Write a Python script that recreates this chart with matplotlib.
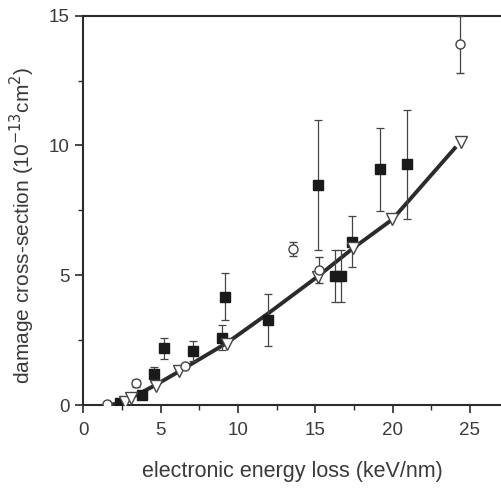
import matplotlib
matplotlib.use("Agg")
import matplotlib.pyplot as plt

plt.rcParams['font.family'] = ['Liberation Sans', 'DejaVu Sans']

# filled squares (experiment A)
sq_x = [2.37, 3.77, 4.59, 5.19, 7.07, 8.99, 9.16, 11.92, 15.19, 16.29, 16.66, 17.37, 19.18, 20.90]
sq_y = [0.09, 0.39, 1.18, 2.18, 2.08, 2.59, 4.18, 3.27, 8.47, 4.97, 4.97, 6.29, 9.08, 9.27]
sq_err = [0.0, 0.0, 0.28, 0.40, 0.40, 0.48, 0.90, 1.00, 2.50, 1.00, 1.00, 0.98, 1.60, 2.10]

# open circles (experiment B)
ci_x = [1.51, 3.40, 6.57, 13.53, 15.26, 24.35]
ci_y = [0.03, 0.83, 1.51, 6.00, 5.22, 13.89]
ci_err = [0.0, 0.13, 0.0, 0.27, 0.50, 1.10]

# open down-triangles (model)
tr_x = [2.69, 3.08, 4.68, 6.19, 9.31, 15.15, 17.46, 19.98, 24.42]
tr_y = [0.13, 0.28, 0.74, 1.32, 2.37, 4.94, 6.03, 7.16, 10.14]

# model curve
line_x = [1.6, 2.5, 3.0, 4.7, 6.2, 9.3, 12.0, 15.15, 17.46, 19.98, 24.1]
line_y = [0.0, 0.08, 0.25, 0.78, 1.30, 2.40, 3.55, 4.95, 6.05, 7.15, 9.95]

x_ticks = [0, 5, 10, 15, 20, 25]
y_ticks = [0, 5, 10, 15]

dark = '#2b2b2b'
txt = '#3a3a3a'

fig = plt.figure(figsize=(5.02, 4.88), dpi=100)
ax = fig.add_axes([0.166, 0.170, 0.834, 0.798])

ax.plot(line_x, line_y, color=dark, lw=2.8, zorder=2, solid_capstyle='butt')

ax.errorbar(sq_x, sq_y, yerr=sq_err, fmt='s', ms=6.6, mfc='#1a1a1a', mec='#1a1a1a',
            ecolor='#444444', elinewidth=0.9, capsize=2.9, capthick=0.9, zorder=3)
ax.errorbar(ci_x, ci_y, yerr=ci_err, fmt='o', ms=6.5, mfc='white', mec='#444444', mew=1.0,
            ecolor='#444444', elinewidth=0.9, capsize=2.9, capthick=0.9, zorder=4)
ax.plot(tr_x, tr_y, 'v', ms=9, mfc='white', mec='#444444', mew=1.0, ls='none', zorder=4)

ax.set_xlim(0, 27.07)
ax.set_ylim(0, 15)
ax.set_xticks(x_ticks)
ax.set_yticks(y_ticks)
ax.set_xticks([2.5, 7.5, 12.5, 17.5, 22.5], minor=True)
ax.set_yticks([2.5, 7.5, 12.5], minor=True)

for s in ['left', 'bottom', 'top']:
    ax.spines[s].set_color(dark)
    ax.spines[s].set_linewidth(1.5)
ax.spines['right'].set_visible(False)

ax.tick_params(which='major', direction='out', length=6, width=1.2, color=dark,
               labelsize=13.5, labelcolor=txt, top=False, right=False)
ax.tick_params(axis='x', which='major', pad=6)
ax.tick_params(axis='y', which='major', pad=4)
ax.tick_params(which='minor', direction='out', length=3.5, width=1.0, color=dark,
               top=False, right=False)

ax.set_xlabel('electronic energy loss (keV/nm)', fontsize=15.5, color=txt, labelpad=16)
ax.set_ylabel('damage cross-section (10$^{-13}$cm$^{2}$)', fontsize=15, color=txt)
ax.yaxis.set_label_coords(-0.11, 0.462)

fig.savefig('out.png', dpi=100, facecolor='white')
